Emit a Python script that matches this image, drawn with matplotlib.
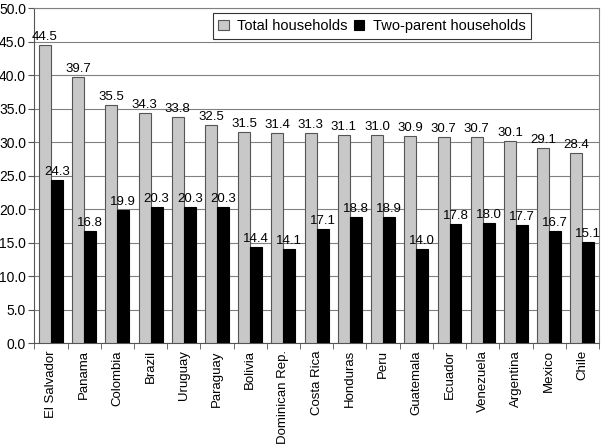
import numpy as np
import matplotlib.pyplot as plt

plt.rcParams['font.family'] = ['Liberation Sans', 'DejaVu Sans']

countries = ['El Salvador', 'Panama', 'Colombia', 'Brazil', 'Uruguay', 'Paraguay',
             'Bolivia', 'Dominican Rep.', 'Costa Rica', 'Honduras', 'Peru', 'Guatemala',
             'Ecuador', 'Venezuela', 'Argentina', 'Mexico', 'Chile']
total = [44.5, 39.7, 35.5, 34.3, 33.8, 32.5, 31.5, 31.4, 31.3, 31.1, 31.0, 30.9,
         30.7, 30.7, 30.1, 29.1, 28.4]
two_parent = [24.3, 16.8, 19.9, 20.3, 20.3, 20.3, 14.4, 14.1, 17.1, 18.8, 18.9, 14.0,
              17.8, 18.0, 17.7, 16.7, 15.1]

fig = plt.figure(figsize=(6.02, 4.47), dpi=100)
ax = fig.add_axes([0.057, 0.232, 0.938, 0.75])

x = np.arange(len(countries))
w = 0.36
ax.bar(x - w / 2, total, w, color='#c8c8c8', edgecolor='#555555', linewidth=0.8,
       label='Total households', zorder=3)
ax.bar(x + w / 2, two_parent, w, color='black', edgecolor='black', linewidth=0.8,
       label='Two-parent households', zorder=3)

for xi, v in zip(x, total):
    ax.text(xi - w / 2, v + 0.3, f'{v:.1f}', ha='center', va='bottom', fontsize=9.5)
for xi, v in zip(x, two_parent):
    ax.text(xi + w / 2, v + 0.3, f'{v:.1f}', ha='center', va='bottom', fontsize=9.5)

ax.set_xlim(-0.5, len(countries) - 0.5)
ax.set_ylim(0, 50)
ax.set_yticks(np.arange(0, 50.1, 5))
ax.set_yticklabels([f'{t:.1f}' for t in np.arange(0, 50.1, 5)], fontsize=10)
ax.yaxis.grid(True, color='#808080', linewidth=0.8, zorder=0)

ax.set_xticks(x)
ax.set_xticklabels(countries, rotation=90, fontsize=9.5)
ax.set_xticks(np.arange(-0.5, len(countries), 1), minor=True)
ax.tick_params(axis='x', which='major', length=0, pad=5)
ax.tick_params(axis='x', which='minor', length=4, color='#555555')
ax.tick_params(axis='y', length=4, color='#555555', pad=2)

for s in ['top', 'right']:
    ax.spines[s].set_color('#808080')
for s in ['left', 'bottom']:
    ax.spines[s].set_color('#555555')

leg = ax.legend(loc='upper right', bbox_to_anchor=(0.88, 0.985), ncol=2, fontsize=10.5,
                frameon=True, fancybox=False, edgecolor='black', handlelength=0.7,
                handleheight=0.7, handletextpad=0.6, columnspacing=0.4,
                borderpad=0.4, borderaxespad=0)
leg.get_frame().set_linewidth(0.8)

plt.savefig('out.png', dpi=100)
